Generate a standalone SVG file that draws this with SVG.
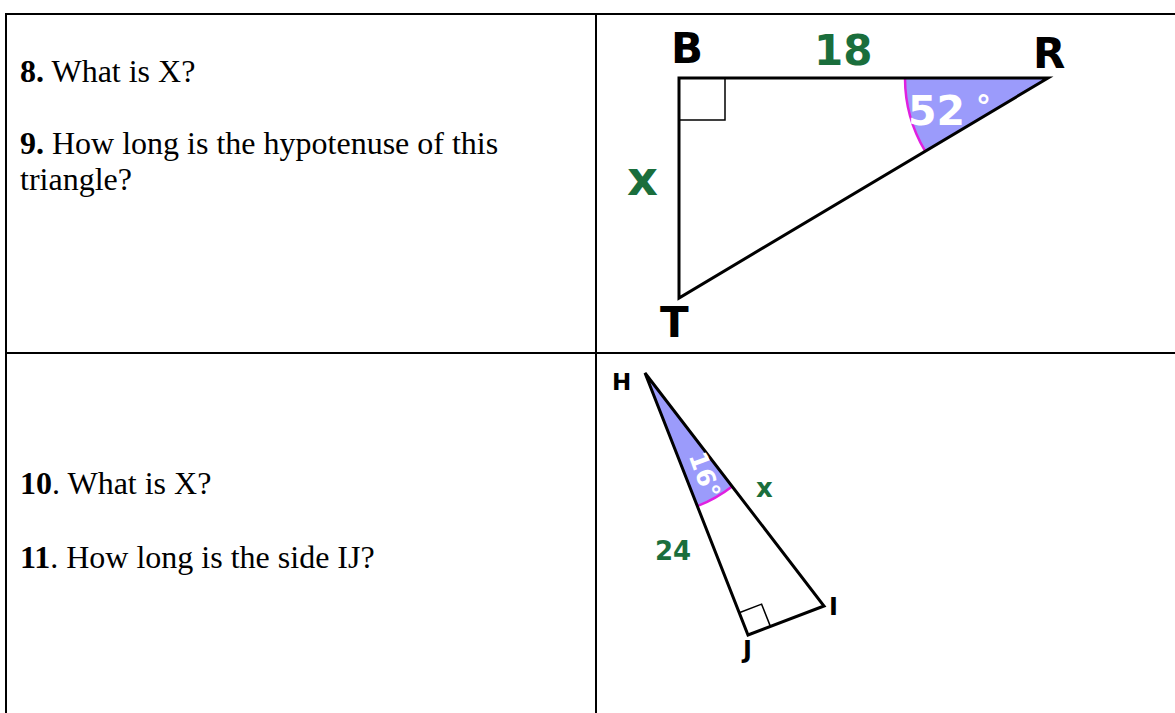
<svg xmlns="http://www.w3.org/2000/svg" width="1175" height="713" viewBox="0 0 1175 713">
<style>
.q{font-family:"Liberation Serif","Times New Roman",serif;font-size:32px;fill:#000}
.b{font-weight:bold}
.lbl{font-family:"DejaVu Sans",Verdana,sans-serif;font-weight:bold;fill:#000}
.grn{fill:#1a6e3c}
.wht{fill:#fff}
.edge{stroke:#000;stroke-width:3;fill:none;stroke-linejoin:miter}
.thin{stroke:#000;stroke-width:1.5;fill:none}
.sector{fill:#9b9bfb;stroke:none}
.arc{stroke:#e020e0;stroke-width:2.5;fill:none}
.grid{stroke:#000;stroke-width:2;fill:none}
</style>
<rect width="1175" height="713" fill="#fff"/>
<g id="table">
<line class="grid" x1="5" y1="14" x2="1175" y2="14"/>
<line class="grid" x1="5" y1="353" x2="1175" y2="353"/>
<line class="grid" x1="6" y1="13" x2="6" y2="713"/>
<line class="grid" x1="596" y1="13" x2="596" y2="713"/>
</g>
<g id="questions-8-9">
<text class="q" x="20" y="82"><tspan class="b">8.</tspan> What is X?</text>
<text class="q" x="20" y="154"><tspan class="b">9.</tspan> How long is the hypotenuse of this</text>
<text class="q" x="20" y="190">triangle?</text>
</g>
<g id="questions-10-11">
<text class="q" x="20" y="494"><tspan class="b">10</tspan>. What is X?</text>
<text class="q" x="20" y="568"><tspan class="b">11</tspan>. How long is the side IJ?</text>
</g>
<g id="triangle-BRT">
<path class="sector" d="M1048 78 L905 78 A143 143 0 0 0 925.2 151.2 Z"/>
<path class="arc" d="M905 78 A143 143 0 0 0 925.2 151.2"/>
<polygon class="edge" points="679,78 1048,78 679,298"/>
<polyline class="thin" points="679,120 725,120 725,78"/>
<text class="lbl wht" x="908" y="125" font-size="41">52</text>
<text class="lbl wht" x="976" y="117" font-size="30">°</text>
<text class="lbl" x="671" y="63" font-size="42">B</text>
<text class="lbl grn" x="814" y="65" font-size="42">18</text>
<text class="lbl" x="1033" y="68" font-size="42">R</text>
<text class="lbl grn" x="627" y="195" font-size="48">x</text>
<text class="lbl" x="660" y="337" font-size="42">T</text>
</g>
<g id="triangle-HJI">
<path class="sector" d="M645 373 L697.3 506.1 A143 143 0 0 0 732.1 486.4 Z"/>
<path class="arc" d="M697.3 506.1 A143 143 0 0 0 732.1 486.4"/>
<polygon class="edge" points="645,373 748,635 824,606"/>
<polyline class="thin" points="739.2,612.7 761.6,604.1 770.4,626.4"/>
<text class="lbl wht" font-size="25" text-anchor="middle" transform="translate(705,475) rotate(70)" x="0" y="9">16°</text>
<text class="lbl" x="612" y="390" font-size="23">H</text>
<text class="lbl grn" x="756" y="497" font-size="26">x</text>
<text class="lbl grn" x="655" y="560" font-size="26">24</text>
<text class="lbl" x="829" y="615" font-size="24">I</text>
<text class="lbl" x="743" y="658" font-size="24">J</text>
</g>
</svg>
